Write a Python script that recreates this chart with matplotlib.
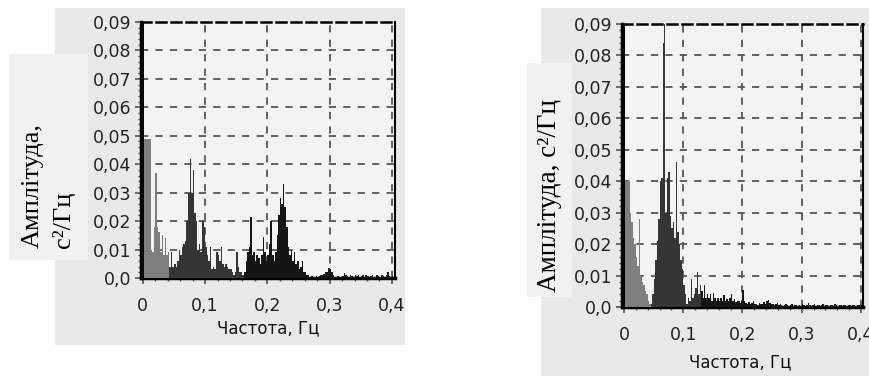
import matplotlib
matplotlib.use("Agg")
import matplotlib.pyplot as plt
from matplotlib.patches import Rectangle
import numpy as np

# spectrum bins, 0.0025 Hz wide, 0 .. 0.4 Hz
bin_step = 0.0025
freq = np.arange(161) * bin_step

amp_left = [
    0.095, 0.049, 0.049, 0.049, 0.049, 0.010, 0.009, 0.018, 0.037, 0.018,
    0.016, 0.009, 0.015, 0.008, 0.014, 0.008, 0.009, 0.004, 0.009, 0.004,
    0.005, 0.004, 0.006, 0.010, 0.008, 0.011, 0.012, 0.013, 0.020, 0.030,
    0.042, 0.030, 0.038, 0.023, 0.020, 0.010, 0.012, 0.009, 0.020, 0.018,
    0.011, 0.008, 0.006, 0.011, 0.003, 0.004, 0.003, 0.009, 0.008, 0.006,
    0.011, 0.005, 0.004, 0.005, 0.004, 0.003, 0.003, 0.002, 0.001, 0.002,
    0.009, 0.004, 0.002, 0.002, 0.001, 0.002, 0.006, 0.009, 0.011, 0.0215,
    0.008, 0.009, 0.006, 0.008, 0.007, 0.005, 0.008, 0.0145, 0.009, 0.006,
    0.008, 0.012, 0.020, 0.008, 0.006, 0.009, 0.015, 0.022, 0.028, 0.026,
    0.033, 0.025, 0.018, 0.011, 0.008, 0.010, 0.006, 0.009, 0.005, 0.006,
    0.003, 0.004, 0.006, 0.002, 0.002, 0.001, 0.001, 0.0005, 0.0008, 0.0005,
    0.0003, 0.0006, 0.0004, 0.0008, 0.001, 0.0012, 0.0015, 0.002, 0.002, 0.0035,
    0.003, 0.002, 0.001, 0.0005, 0.0004, 0.0007, 0.0005, 0.0003, 0.0008, 0.0018,
    0.001, 0.0006, 0.0005, 0.0012, 0.0006, 0.0004, 0.001, 0.0006, 0.0012, 0.0004,
    0.0008, 0.001, 0.0005, 0.0012, 0.0006, 0.0004, 0.0007, 0.001, 0.0005, 0.0004,
    0.0009, 0.0006, 0.0004, 0.001, 0.0006, 0.0004, 0.0012, 0.002, 0.0008, 0.0005,
    0.0006,
]

amp_right = [
    0.095, 0.040, 0.040, 0.040, 0.030, 0.027, 0.022, 0.020, 0.016, 0.013,
    0.028, 0.010, 0.008, 0.007, 0.005, 0.004, 0.002, 0.001, 0.001, 0.004,
    0.009, 0.015, 0.021, 0.028, 0.040, 0.041, 0.084, 0.095, 0.030, 0.041,
    0.043, 0.029, 0.025, 0.027, 0.022, 0.046, 0.024, 0.020, 0.015, 0.012,
    0.007, 0.004, 0.001, 0.003, 0.002, 0.009, 0.003, 0.004, 0.006, 0.011,
    0.004, 0.007, 0.005, 0.003, 0.007, 0.003, 0.004, 0.003, 0.004, 0.002,
    0.0045, 0.003, 0.002, 0.003, 0.002, 0.003, 0.002, 0.0038, 0.002, 0.0025,
    0.002, 0.003, 0.004, 0.002, 0.0025, 0.0015, 0.002, 0.0018, 0.0012, 0.002,
    0.0054, 0.002, 0.0012, 0.001, 0.0015, 0.0008, 0.0012, 0.0018, 0.001, 0.0008,
    0.0006, 0.0012, 0.001, 0.0008, 0.0015, 0.001, 0.0018, 0.0022, 0.0012, 0.0008,
    0.001, 0.0006, 0.0008, 0.0012, 0.0005, 0.0008, 0.0006, 0.0004, 0.0007, 0.001,
    0.0005, 0.0004, 0.0006, 0.0008, 0.0004, 0.0005, 0.0007, 0.0004, 0.0006, 0.0004,
    0.0008, 0.0005, 0.0004, 0.0006, 0.0012, 0.0005, 0.0004, 0.0006, 0.0009, 0.0004,
    0.0005, 0.0007, 0.0004, 0.0006, 0.0008, 0.0004, 0.0005, 0.0007, 0.0004, 0.0006,
    0.0005, 0.0004, 0.0008, 0.0005, 0.0004, 0.0006, 0.0005, 0.0004, 0.0006, 0.0005,
    0.0004, 0.0007, 0.0005, 0.0004, 0.0006, 0.0005, 0.0004, 0.0005, 0.0006, 0.0004,
    0.0005,
]

# where the bar shading changes (Hz)
left_bands = [0.0425, 0.1625]
right_bands = [0.045, 0.13]

y_ticks = [0.0, 0.01, 0.02, 0.03, 0.04, 0.05, 0.06, 0.07, 0.08, 0.09]
y_labels = ["0,0", "0,01", "0,02", "0,03", "0,04", "0,05", "0,06", "0,07", "0,08", "0,09"]
x_ticks = [0.0, 0.1, 0.2, 0.3, 0.4]
x_labels = ["0", "0,1", "0,2", "0,3", "0,4"]

W, H = 870, 376
fig = plt.figure(figsize=(W / 100, H / 100), dpi=100)
fig.patch.set_facecolor("white")


def px_rect(x0, y0, x1, y1, color):
    # rectangle in pixel coords measured from the top-left corner
    fig.patches.append(Rectangle((x0 / W, 1 - y1 / H), (x1 - x0) / W, (y1 - y0) / H,
                                 transform=fig.transFigure, facecolor=color,
                                 edgecolor="none", zorder=-5))


def px_axes(x0, y0, x1, y1):
    ax = fig.add_axes([x0 / W, 1 - y1 / H, (x1 - x0) / W, (y1 - y0) / H])
    ax.set_zorder(2)
    return ax


# grey window panels and label boxes
px_rect(55, 8, 405, 345, "#e9e9e9")
px_rect(541, 8, 870, 376, "#e9e9e9")
px_rect(9, 54, 88, 260, "#f1f1f1")
px_rect(527, 63, 572, 297, "#f1f1f1")


def draw_panel(ax, amp, bands):
    amp = np.array(amp)
    shade = np.where(freq < bands[0], "#7f7f7f",
                     np.where(freq < bands[1], "#353535", "#141414"))
    shade = shade.astype(object)
    shade[0] = "#000000"
    ax.bar(freq, amp, width=bin_step, align="edge", color=list(shade),
           linewidth=0, zorder=3)
    ax.set_facecolor("#f3f3f3")
    ax.set_xlim(-0.003, 0.405)
    ax.set_ylim(0, 0.09)
    ax.set_yticks(y_ticks)
    ax.set_yticklabels(y_labels)
    ax.set_xticks(x_ticks)
    ax.set_xticklabels(x_labels)
    ax.set_xticks(np.arange(0, 0.41, 0.02), minor=True)
    ax.set_yticks(np.arange(0, 0.091, 0.002), minor=True)
    ax.tick_params(axis="both", which="major", labelsize=12.5, labelcolor="#222222",
                   length=4, width=1.2, color="#555555")
    ax.tick_params(axis="both", which="minor", length=2, width=1, color="#555555")
    ax.tick_params(axis="x", pad=10)
    ax.tick_params(axis="y", pad=3)
    for v in y_ticks[1:-1]:
        ax.axhline(v, color="#555555", lw=1.3, ls=(0, (4, 4)), zorder=2)
    for v in x_ticks[1:]:
        ax.axvline(v, color="#555555", lw=1.3, ls=(0, (4, 4)), zorder=2)
    for side in ["left", "bottom", "right"]:
        ax.spines[side].set_linewidth(1.5)
        ax.spines[side].set_color("black")
    ax.spines["top"].set_linewidth(1.8)
    ax.spines["top"].set_linestyle((0, (4, 2)))
    ax.spines["left"].set_linewidth(2.5)
    ax.spines["bottom"].set_linewidth(2.5)


ax1 = px_axes(141, 22, 395, 278)
draw_panel(ax1, amp_left, left_bands)
ax2 = px_axes(622, 24, 863, 307)
draw_panel(ax2, amp_right, right_bands)
ax2.set_xlim(-0.0034, 0.4034)

fig.text(268 / W, 1 - 328 / H, "Частота, Гц", ha="center", va="center",
         fontsize=12, color="#111111")
fig.text(740 / W, 1 - 362 / H, "Частота, Гц", ha="center", va="center",
         fontsize=12, color="#111111")

serif = ["Liberation Serif", "DejaVu Serif"]
fig.text(33 / W, 1 - 248 / H, "Амплітуда,", rotation=90, ha="center", va="bottom",
         fontsize=19, family=serif)
fig.text(63 / W, 1 - 248 / H, "с²/Гц", rotation=90, ha="center", va="bottom",
         fontsize=19, family=serif)
fig.text(550 / W, 1 - 195 / H, "Амплітуда, с²/Гц", rotation=90, ha="center",
         va="center", fontsize=19.5, family=serif)

fig.savefig("out.png", dpi=100, facecolor=fig.get_facecolor())
